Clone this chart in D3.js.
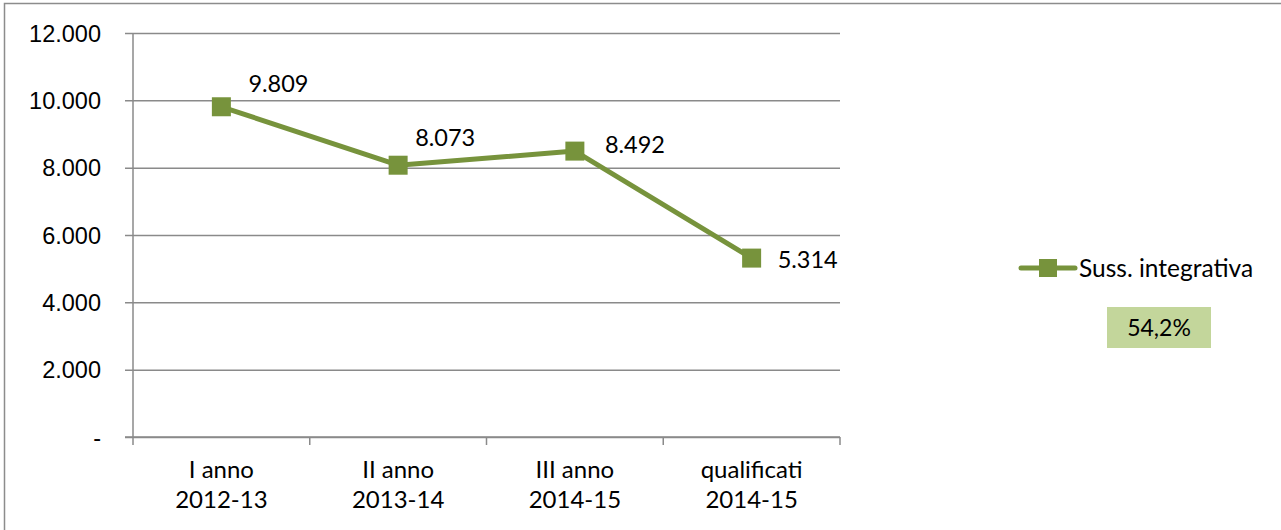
<!DOCTYPE html>
<html>
<head>
<meta charset="utf-8">
<script src="https://cdn.jsdelivr.net/npm/d3@7"></script>
<style>
  html, body { margin: 0; padding: 0; background: #fff; }
  svg { display: block; font-family: Lato, "Open Sans", sans-serif; }
</style>
</head>
<body>
<svg id="chart" width="1281" height="530"></svg>
<script>
// Categories (two-line labels) and series values
const categories = ["I anno|2012-13", "II anno|2013-14", "III anno|2014-15", "qualificati|2014-15"];
const seriesName = "Suss. integrativa";
const values = [9809, 8073, 8492, 5314];
const yTicks = [0, 2000, 4000, 6000, 8000, 10000, 12000];
const noteText = "54,2%";

const green = "#77933C";
const gridColor = "#8a8a8a";

// Italian number format: "." thousands separator, zero shown as "-"
const it = d3.formatLocale({ decimal: ",", thousands: ".", grouping: [3], currency: ["€", ""] });
const fmt = it.format(",d");
const tickFmt = v => v === 0 ? "-" : fmt(v);

const svg = d3.select("#chart");

// Outer chart frame
svg.append("path")
  .attr("d", "M4.5,540 V3.5 H1290")
  .attr("fill", "none")
  .attr("stroke", "#8c8c8c")
  .attr("stroke-width", 1.5);

const plot = { left: 133, right: 840, top: 33, bottom: 437 };

const x = d3.scaleBand().domain(categories).range([plot.left, plot.right]).padding(0);
const y = d3.scaleLinear().domain([0, 12000]).range([plot.bottom, plot.top]);
const cx = c => x(c) + x.bandwidth() / 2;

// Horizontal gridlines with outward tick marks on the left
const yAxis = d3.axisLeft(y)
  .tickValues(yTicks)
  .tickSize(-(plot.right - plot.left))
  .tickSizeOuter(0)
  .tickPadding(0)
  .tickFormat(tickFmt);

const yG = svg.append("g").attr("transform", `translate(${plot.left},0)`).call(yAxis);
yG.select(".domain").remove();
yG.selectAll(".tick line")
  .attr("x1", -8)
  .attr("stroke", gridColor)
  .attr("stroke-width", 1.5);
yG.selectAll(".tick text")
  .attr("x", -32)
  .attr("dy", "0.35em")
  .attr("fill", "#000")
  .style("font-size", "23.5px");

// Vertical value axis line
svg.append("line")
  .attr("x1", plot.left).attr("x2", plot.left)
  .attr("y1", plot.top).attr("y2", plot.bottom)
  .attr("stroke", gridColor).attr("stroke-width", 1.5);

// Category axis with tick marks at band boundaries
svg.append("line")
  .attr("x1", plot.left - 8).attr("x2", plot.right)
  .attr("y1", plot.bottom).attr("y2", plot.bottom)
  .attr("stroke", gridColor).attr("stroke-width", 1.5);

const boundaries = categories.map(c => x(c)).concat([x(categories[categories.length - 1]) + x.bandwidth()]);
svg.append("g").selectAll("line").data(boundaries).join("line")
  .attr("x1", d => d).attr("x2", d => d)
  .attr("y1", plot.bottom).attr("y2", plot.bottom + 8)
  .attr("stroke", gridColor).attr("stroke-width", 1.5);

const catLabels = svg.append("g").selectAll("text").data(categories).join("text")
  .attr("x", d => cx(d))
  .attr("text-anchor", "middle")
  .attr("fill", "#000")
  .style("font-size", "24px");
catLabels.each(function (d) {
  const parts = d.split("|");
  const t = d3.select(this);
  parts.forEach((p, i) => {
    t.append("tspan").attr("x", cx(d)).attr("y", 478 + i * 30).text(p);
  });
});

// Series line and square markers
const line = d3.line().x((d, i) => cx(categories[i])).y(d => y(d));
svg.append("path")
  .datum(values)
  .attr("d", line)
  .attr("fill", "none")
  .attr("stroke", green)
  .attr("stroke-width", 5)
  .attr("stroke-linejoin", "round")
  .attr("stroke-linecap", "round");

const ms = 19;
svg.append("g").selectAll("rect").data(values).join("rect")
  .attr("x", (d, i) => cx(categories[i]) - ms / 2)
  .attr("y", d => y(d) - ms / 2)
  .attr("width", ms).attr("height", ms)
  .attr("fill", green);

// Data labels, placed to the right of each marker
const labelOffsets = [[27, -15], [17, -19], [30, 2], [26, 10]];
svg.append("g").selectAll("text").data(values).join("text")
  .attr("x", (d, i) => cx(categories[i]) + labelOffsets[i][0])
  .attr("y", (d, i) => y(d) + labelOffsets[i][1])
  .attr("fill", "#000")
  .style("font-size", "23.5px")
  .text(d => fmt(d));

// Legend
const lg = svg.append("g");
lg.append("line")
  .attr("x1", 1021).attr("x2", 1075).attr("y1", 268).attr("y2", 268)
  .attr("stroke", green).attr("stroke-width", 5).attr("stroke-linecap", "round");
lg.append("rect")
  .attr("x", 1039).attr("y", 259).attr("width", 18).attr("height", 18)
  .attr("fill", green);
lg.append("text")
  .attr("x", 1079).attr("y", 277)
  .attr("fill", "#000")
  .style("font-size", "24.5px")
  .text(seriesName);

// Percentage note box
svg.append("rect")
  .attr("x", 1107).attr("y", 307).attr("width", 104).attr("height", 41)
  .attr("fill", "#C3D69B");
svg.append("text")
  .attr("x", 1159).attr("y", 336)
  .attr("text-anchor", "middle")
  .attr("fill", "#000")
  .style("font-size", "23px")
  .text(noteText);
</script>
</body>
</html>
